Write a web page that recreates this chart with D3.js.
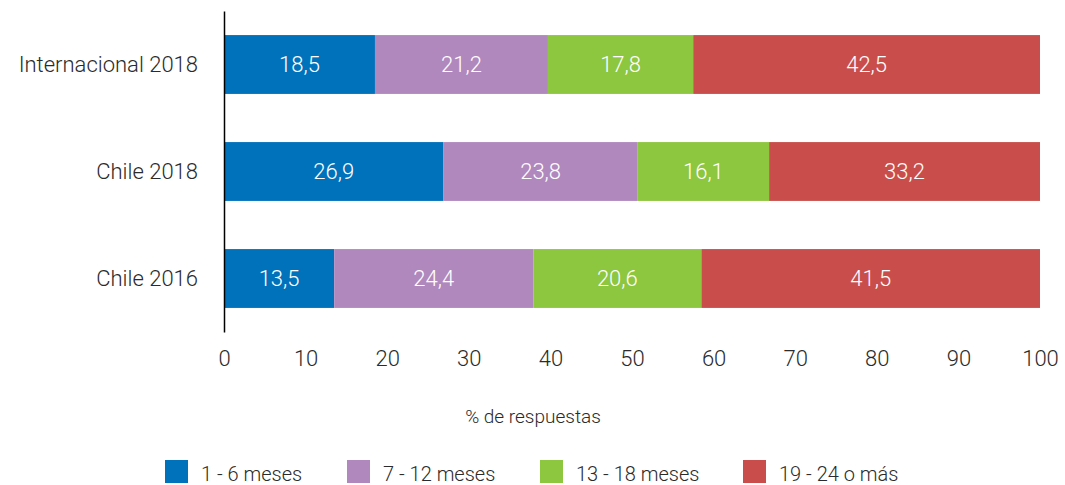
<!DOCTYPE html>
<html lang="es">
<head>
  <meta charset="UTF-8">
  <title>Tiempo de respuesta</title>
  <script src="https://d3js.org/d3.v7.min.js"></script>
  <style>
    body { margin: 0; background: #fff; font-family: Roboto, sans-serif; }
    svg { display: block; }
    svg text { font-weight: 300; }
    .axis text { fill: #2b2b2b; }
  </style>
</head>
<body>
<svg id="chart" width="1065" height="485"></svg>
<script>
  const categories = ["Internacional 2018", "Chile 2018", "Chile 2016"];
  const seriesNames = ["1 - 6 meses", "7 - 12 meses", "13 - 18 meses", "19 - 24 o más"];
  const colors = ["#0072bc", "#b088bd", "#8dc63f", "#c94e4b"];
  const values = [
    [18.5, 21.2, 17.8, 42.5],
    [26.9, 23.8, 16.1, 33.2],
    [13.5, 24.4, 20.6, 41.5]
  ];
  const xTicks = [0, 10, 20, 30, 40, 50, 60, 70, 80, 90, 100];

  const svg = d3.select("#chart");
  const fs = 22;

  const x = d3.scaleLinear().domain([0, 100]).range([224, 1040]);
  const y = d3.scaleBand()
    .domain(categories)
    .range([11, 332])
    .paddingInner(0.45)
    .paddingOuter(0.225);

  const color = d3.scaleOrdinal().domain(seriesNames).range(colors);

  const rows = categories.map((c, i) => {
    const r = { cat: c };
    seriesNames.forEach((s, j) => r[s] = values[i][j]);
    return r;
  });
  const stacked = d3.stack().keys(seriesNames)(rows);

  const layer = svg.append("g")
    .selectAll("g")
    .data(stacked)
    .join("g")
    .attr("fill", d => color(d.key));

  layer.selectAll("rect")
    .data(d => d)
    .join("rect")
    .attr("x", d => x(d[0]))
    .attr("y", d => y(d.data.cat))
    .attr("width", d => x(d[1]) - x(d[0]))
    .attr("height", y.bandwidth());

  layer.selectAll("text")
    .data(d => d)
    .join("text")
    .attr("x", d => (x(d[0]) + x(d[1])) / 2)
    .attr("y", d => y(d.data.cat) + y.bandwidth() / 2)
    .attr("dy", "0.36em")
    .attr("text-anchor", "middle")
    .attr("fill", "#fff")
    .attr("font-size", fs)
    .text(d => d3.format(".1f")(d[1] - d[0]).replace(".", ","));

  // eje vertical con categorías
  const yAxis = svg.append("g")
    .attr("class", "axis")
    .attr("transform", `translate(${x(0)},0)`)
    .call(d3.axisLeft(y).tickSize(0).tickPadding(26));
  yAxis.select(".domain").attr("stroke", "#000").attr("stroke-width", 1.5);
  yAxis.selectAll("text").attr("font-size", fs).attr("font-family", "Roboto, sans-serif");

  // eje horizontal: solo etiquetas
  const xAxis = svg.append("g")
    .attr("class", "axis")
    .attr("transform", "translate(0,332)")
    .call(d3.axisBottom(x).tickValues(xTicks).tickSize(0).tickPadding(18));
  xAxis.select(".domain").remove();
  xAxis.selectAll("text").attr("font-size", fs).attr("font-family", "Roboto, sans-serif");

  svg.append("text")
    .attr("x", 533)
    .attr("y", 423)
    .attr("text-anchor", "middle")
    .attr("fill", "#2b2b2b")
    .attr("font-size", 19)
    .text("% de respuestas");

  // leyenda
  const legendX = [165, 347, 540, 743];
  const legend = svg.append("g")
    .selectAll("g")
    .data(seriesNames)
    .join("g")
    .attr("transform", (d, i) => `translate(${legendX[i]},460)`);

  legend.append("rect")
    .attr("width", 23)
    .attr("height", 23)
    .attr("fill", d => color(d));

  legend.append("text")
    .attr("x", 36)
    .attr("y", 21)
    .attr("fill", "#2b2b2b")
    .attr("font-size", 20)
    .text(d => d);
</script>
</body>
</html>
